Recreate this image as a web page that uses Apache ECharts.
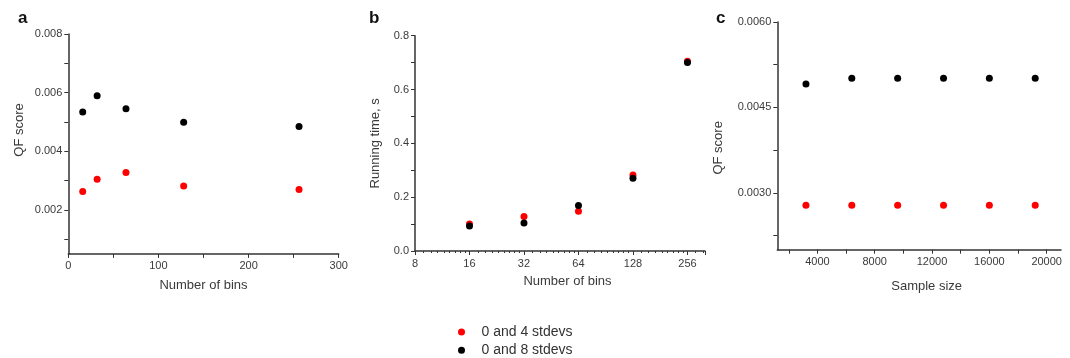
<!DOCTYPE html>
<html>
<head>
<meta charset="utf-8">
<script src="https://cdn.jsdelivr.net/npm/echarts@6/dist/echarts.min.js"></script>
<style>html,body{margin:0;padding:0;background:#fff}#c{width:1070px;height:358px}</style>
</head>
<body>
<div id="c"></div>
<script>
// ---- data ----
var seriesNames = ['0 and 4 stdevs', '0 and 8 stdevs'];
var binsA = [16, 32, 64, 128, 256];
var qfA4 = [0.00263, 0.00305, 0.00328, 0.00282, 0.00270];
var qfA8 = [0.00534, 0.00590, 0.00545, 0.00499, 0.00485];
var binsB = [16, 32, 64, 128, 256];
var timeB4 = [0.100, 0.128, 0.148, 0.282, 0.705];
var timeB8 = [0.093, 0.104, 0.169, 0.270, 0.700];
var sampleSizes = [3200, 6400, 9600, 12800, 16000, 19200];
var qfC4 = [0.00278, 0.00278, 0.00278, 0.00278, 0.00278, 0.00278];
var qfC8 = [0.00491, 0.00501, 0.00501, 0.00501, 0.00501, 0.00501];
var panelLetters = ['a', 'b', 'c'];

function zip(xs, ys) { return xs.map(function (x, i) { return [x, ys[i]]; }); }
function isMult(v, step) { var r = v / step; return Math.abs(r - Math.round(r)) < 1e-6; }

var FONT = 'Liberation Sans, Arial, sans-serif';
var AX = '#333';
var LBL = '#3a3a3a';

function axisBase() {
  return {
    axisLine: { show: true, onZero: false, lineStyle: { color: AX, width: 1.5 } },
    axisTick: { show: true, inside: false, length: 4, lineStyle: { color: AX, width: 1 } },
    splitLine: { show: false },
    axisLabel: { color: LBL, fontSize: 11, fontFamily: FONT, showMinLabel: false, showMaxLabel: false },
    nameLocation: 'middle',
    nameTextStyle: { color: LBL, fontSize: 13, fontFamily: FONT }
  };
}
function merge(a, b) {
  for (var k in b) {
    if (b[k] && typeof b[k] === 'object' && !Array.isArray(b[k]) && a[k]) { merge(a[k], b[k]); }
    else a[k] = b[k];
  }
  return a;
}

var xAxes = [
  merge(axisBase(), {
    type: 'value', gridIndex: 0, min: 0, max: 300, interval: 50,
    name: 'Number of bins', nameGap: 25,
    axisLabel: { margin: 7, showMinLabel: true, showMaxLabel: true,
      formatter: function (v) { return isMult(v, 100) ? String(v) : ''; } }
  }),
  merge(axisBase(), {
    type: 'log', logBase: 2, gridIndex: 1, min: 8, max: 320,
    name: 'Number of bins', nameGap: 24, nameTextStyle: { padding: [0, 0, 0, 15] },
    minorTick: { show: true, splitNumber: 9, length: 2, lineStyle: { color: AX } },
    axisLabel: { margin: 7, showMinLabel: true, showMaxLabel: false,
      formatter: function (v) { var l = Math.log(v) / Math.LN2; return Math.abs(l - Math.round(l)) < 1e-6 ? String(Math.round(v)) : ''; } }
  }),
  merge(axisBase(), {
    type: 'value', gridIndex: 2, min: 1200, max: 21000, minInterval: 2000, maxInterval: 2000,
    name: 'Sample size', nameGap: 30, nameTextStyle: { padding: [0, 0, 0, 15] },
    axisLabel: { margin: 7,
      formatter: function (v) { return isMult(v, 4000) ? String(v) : ''; } }
  })
];

var yAxes = [
  merge(axisBase(), {
    type: 'value', gridIndex: 0, min: 0.0005, max: 0.008, minInterval: 0.001, maxInterval: 0.001,
    name: 'QF score', nameGap: 42, nameTextStyle: { padding: [0, 0, 0, 28] },
    axisLabel: { margin: 6, showMaxLabel: true,
      formatter: function (v) { return isMult(v, 0.002) ? v.toFixed(3) : ''; } }
  }),
  merge(axisBase(), {
    type: 'value', gridIndex: 1, min: 0, max: 0.8, interval: 0.1,
    name: 'Running time, s', nameGap: 33,
    axisLabel: { margin: 6, showMinLabel: true, showMaxLabel: true,
      formatter: function (v) { return isMult(v, 0.2) ? v.toFixed(1) : ''; } }
  }),
  merge(axisBase(), {
    type: 'value', gridIndex: 2, min: 0.002, max: 0.006, minInterval: 0.00075, maxInterval: 0.00075,
    name: 'QF score', nameGap: 52, nameTextStyle: { padding: [0, 24, 0, 0] },
    axisLabel: { margin: 6, showMaxLabel: true,
      formatter: function (v) { return isMult(v, 0.0015) ? v.toFixed(4) : ''; } }
  })
];

var colors = ['#ff0000', '#000000'];
var panels = [[binsA, qfA4, qfA8], [binsB, timeB4, timeB8], [sampleSizes, qfC4, qfC8]];
var series = [];
panels.forEach(function (p, gi) {
  [p[1], p[2]].forEach(function (vals, si) {
    series.push({
      type: 'scatter', name: seriesNames[si], xAxisIndex: gi, yAxisIndex: gi,
      data: zip(p[0], vals), symbol: 'circle', symbolSize: 7,
      itemStyle: { color: colors[si], opacity: 1 }, z: 2 + si
    });
  });
});

function legendFor(name, top) {
  return {
    orient: 'vertical', left: 453, top: top,
    data: [name], icon: 'circle', itemWidth: 30, itemHeight: 7, itemGap: 0,
    selectedMode: false,
    textStyle: { fontSize: 14, color: '#333', fontFamily: FONT }
  };
}

var option = {
  backgroundColor: '#fff',
  animation: false,
  color: colors,
  title: [
    { text: panelLetters[0], left: 13, top: 5 },
    { text: panelLetters[1], left: 364, top: 5 },
    { text: panelLetters[2], left: 711, top: 5 }
  ].map(function (t) { t.textStyle = { fontSize: 17, fontWeight: 'bold', color: '#111', fontFamily: FONT }; return t; }),
  grid: [
    { left: 68.3, top: 34.1, width: 270.4, height: 219.8, outerBoundsMode: 'none' },
    { left: 415, top: 35.7, width: 290, height: 215.3, outerBoundsMode: 'none' },
    { left: 777.3, top: 22, width: 283.7, height: 227.7, outerBoundsMode: 'none' }
  ],
  xAxis: xAxes,
  yAxis: yAxes,
  legend: [legendFor(seriesNames[0], 320), legendFor(seriesNames[1], 338.3)],
  series: series
};
echarts.init(document.getElementById('c'), null, { renderer: 'canvas' }).setOption(option);
</script>
</body>
</html>
